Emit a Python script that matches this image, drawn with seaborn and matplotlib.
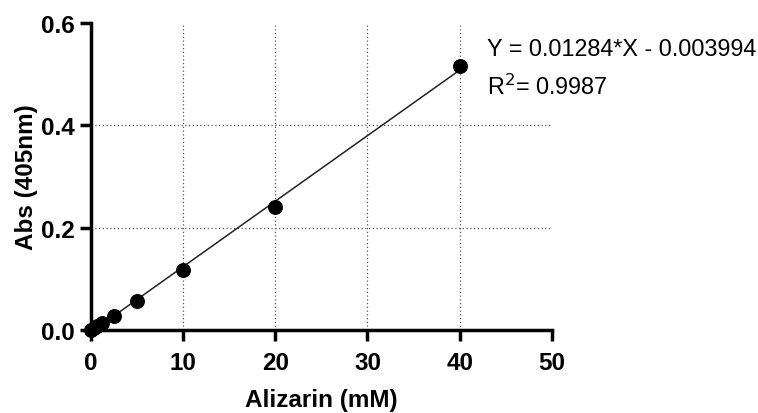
import matplotlib
matplotlib.use("Agg")
import matplotlib.pyplot as plt
import seaborn as sns
import pandas as pd

# standard curve data
alizarin = [0, 0.3125, 0.625, 1.25, 2.5, 5, 10, 20, 40]
absorb = [0.0, 0.004, 0.008, 0.015, 0.027, 0.057, 0.117, 0.240, 0.516]
eq_text = "Y = 0.01284*X - 0.003994"
r2_text = "R$^2$= 0.9987"

xticks = [0, 10, 20, 30, 40, 50]
yticks = [0.0, 0.2, 0.4, 0.6]
xgrid = [10, 20, 30, 40]
ygrid = [0.2, 0.4]

df = pd.DataFrame({"x": alizarin, "y": absorb})

sns.set_style("ticks", {"text.color": "black", "axes.labelcolor": "black",
                        "xtick.color": "black", "ytick.color": "black"})
plt.rcParams['font.family'] = ['Liberation Sans', 'DejaVu Sans']

fig = plt.figure(figsize=(7.58, 4.14), dpi=100)
ax = fig.add_axes([0.120, 0.200, 0.608, 0.742])

for g in xgrid:
    ax.axvline(g, color='#555555', lw=0.9, ls=(0, (1, 2)), zorder=0)
for g in ygrid:
    ax.axhline(g, color='#555555', lw=0.9, ls=(0, (1, 2)), zorder=0)

sns.regplot(data=df, x="x", y="y", ci=None, ax=ax,
            scatter_kws=dict(s=95, color='black', edgecolor='black', alpha=1, zorder=3, clip_on=False),
            line_kws=dict(color='#222222', lw=1.1, zorder=2))

ax.set_xlim(0, 50)
ax.set_ylim(0, 0.6)
ax.set_xticks(xticks)
ax.set_yticks(yticks)
ax.set_yticklabels([f"{v:.1f}" for v in yticks])
ax.tick_params(axis='both', width=2.5, length=8, labelsize=17.5, direction='out', pad=4,
               color='black', labelcolor='black')
ax.tick_params(axis='x', pad=7)
for lab in ax.get_xticklabels() + ax.get_yticklabels():
    lab.set_fontweight('bold')

for s in ['left', 'bottom']:
    ax.spines[s].set_linewidth(2.5)
    ax.spines[s].set_color('black')
sns.despine(ax=ax)

ax.set_xlabel("Alizarin (mM)", fontsize=17.5, fontweight='bold', labelpad=10, color='black')
ax.set_ylabel("Abs (405nm)", fontsize=17.5, fontweight='bold', labelpad=2, color='black')

fig.text(0.642, 0.88, eq_text, fontsize=16.8, ha='left', va='center', color='black')
fig.text(0.642, 0.79, r2_text, fontsize=16.8, ha='left', va='center', color='black')

fig.savefig("out.png", dpi=100)
